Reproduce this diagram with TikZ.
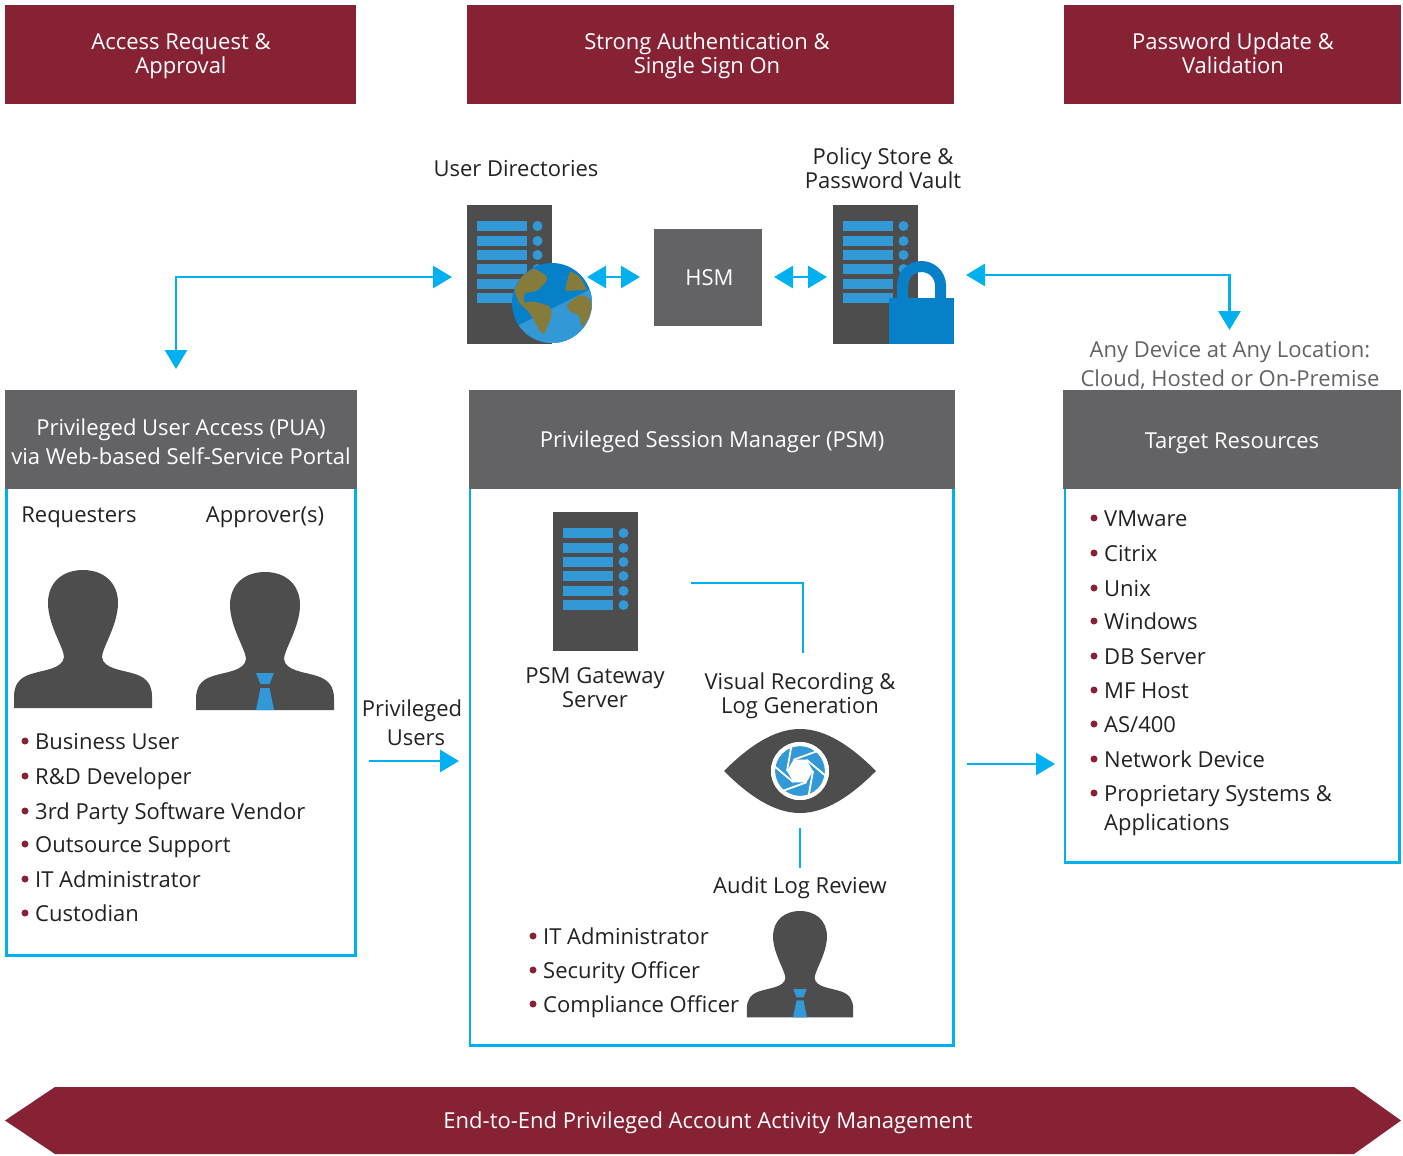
\documentclass[tikz,border=0pt]{standalone}
\usepackage{fontspec}
\setmainfont{Open Sans}
\usetikzlibrary{arrows.meta}
\definecolor{maroon}{HTML}{862234}
\definecolor{hdr}{HTML}{636366}
\definecolor{dark}{HTML}{4D4D4D}
\definecolor{bluefill}{HTML}{3399D6}
\definecolor{cyanline}{HTML}{00B0F0}
\definecolor{globeblue}{HTML}{0680C9}
\definecolor{land}{HTML}{857C3B}
\definecolor{txtc}{HTML}{222222}
\newcommand{\fs}[1]{\fontsize{22}{#1}\selectfont}
\tikzset{
 x=1pt,y=-1pt,
 bandbox/.style={fill=maroon,draw=none,inner sep=0},
 hdrbox/.style={fill=hdr,draw=none,inner sep=0},
 wlab/.style={inner sep=0,text=white,font=\fs{24},align=center},
 panel/.style={draw=cyanline,line width=2.8pt,fill=white},
 lab/.style={inner sep=0,text=txtc,font=\fs{24},align=center},
 wide/.style={font=\fs{29}},
 item/.style={inner sep=0,anchor=base west,text=txtc,font=\fs{24}},
 dotb/.style={circle,fill=maroon,inner sep=0,minimum size=7pt},
 conn/.style={draw=cyanline,line width=2.8pt},
 dbl/.style={conn,{Triangle[length=19pt,width=22pt]}-{Triangle[length=19pt,width=22pt]}},
 sgl/.style={conn,-{Triangle[length=19pt,width=22pt]}},
 pics/server/.style={code={
   \fill[dark] (0,0) rectangle (85,139);
   \foreach \yy in {16,31,45,59,74,88}{
     \fill[bluefill] (9.5,\yy) rectangle (59.5,\yy+10);
     \fill[bluefill] (70.5,\yy+5) circle[radius=5];}
 }},
 pics/person/.style={code={
   \fill[dark] (-69,138) -- (-69,127) .. controls (-69,116) and (-65,108) .. (-52,104)
     .. controls (-40,100) and (-20,99) .. (-19,87)
     .. controls (-19,78) and (-35,55) .. (-35,33)
     .. controls (-35,12) and (-20,0) .. (0,0)
     .. controls (20,0) and (35,12) .. (35,33)
     .. controls (35,55) and (19,78) .. (19,87)
     .. controls (20,99) and (40,100) .. (52,104)
     .. controls (65,108) and (69,116) .. (69,127) -- (69,138) -- cycle;
 }},
 pics/tie/.style={code={
   \fill[bluefill] (-9,101) -- (9,101) -- (4.5,112) -- (-4.5,112) -- cycle;
   \fill[bluefill] (-4.5,116) -- (4.5,116) -- (9,138) -- (-9,138) -- cycle;
 }},
}
\newcommand{\bitem}[4]{% name,x,y,text
  \node[dotb] (#1d) at (#2,#3-8) {};
  \node[item] (#1) at (#2+10,#3) {#4};
}
\begin{document}
\begin{tikzpicture}
\useasboundingbox (0,0) rectangle (1403,1156);
\fill[white] (0,0) rectangle (1403,1156);
% top bands
\node[bandbox,minimum width=351pt,minimum height=99pt] (b1) at (180.5,54.5) {};
\node[bandbox,minimum width=487pt,minimum height=99pt] (b2) at (710.5,54.5) {};
\node[bandbox,minimum width=337pt,minimum height=99pt] (b3) at (1232.5,54.5) {};
\node[wlab] (b1t) at (181,56) {Access Request \&\\Approval};
\node[wlab] (b2t) at (707,56) {Strong Authentication \&\\Single Sign On};
\node[wlab] (b3t) at (1233,53) {Password Update \&\\Validation};
% labels
\node[lab] (ud) at (516,169) {User Directories};
\node[lab] (ps) at (883,168) {Policy Store \&\\Password Vault};
% servers
\pic at (467,205) {server};
\pic at (833,205) {server};
% globe
\begin{scope}[shift={(552,303)}]
  \clip (0,0) circle[radius=40];
  \fill[globeblue] (-41,-41) rectangle (41,41);
  \fill[bluefill] (-41,26) -- (41,-15) -- (41,41) -- (-41,41) -- cycle;
  \fill[land,rounded corners=2pt] (-18,-35) -- (-5,-27) -- (-5,-22) -- (-15,-12) -- (-28,-10) -- (-28,0) -- (-20,-2) -- (-2,3) -- (0,12) -- (-8,32) -- (-13,27) -- (-22,10) -- (-33,0) -- (-38,-13) -- (-30,-27) -- cycle;
  \fill[land,rounded corners=2pt] (18,-32) -- (28,-26) -- (35,-13) -- (27,-13) -- (13,-12) -- (15,-22) -- cycle;
  \fill[land,rounded corners=2pt] (27,-8) -- (35,-7) -- (40,0) -- (38,13) -- (30,25) -- (27,12) -- (18,9) -- (14,2) -- cycle;
\end{scope}
% lock
\draw[globeblue,line width=11pt] (902.5,300) -- (902.5,285.5) arc[start angle=180,end angle=360,radius=19] -- (940.5,300);
\fill[globeblue] (889,298) rectangle (954,344);
% HSM
\node[hdrbox,minimum width=108pt,minimum height=97pt] (hsm) at (708,277.5) {};
\node[wlab] (hsmt) at (709.5,278) {HSM};
% panels
\draw[panel] (6.5,488) rectangle (355.5,955.5);
\draw[panel] (470,488) rectangle (953.5,1045.5);
\draw[panel] (1065,488) rectangle (1399.5,862.5);
\node[hdrbox,minimum width=352pt,minimum height=99pt] (h1) at (181,439.5) {};
\node[hdrbox,minimum width=486pt,minimum height=99pt] (h2) at (711.5,439.5) {};
\node[hdrbox,minimum width=338pt,minimum height=99pt] (h3) at (1232,439.5) {};
\node[wlab,wide] (h1t) at (181,441.5) {Privileged User Access (PUA)\\via Web-based Self-Service Portal};
\node[wlab] (h2t) at (712,442) {Privileged Session Manager (PSM)};
\node[wlab] (h3t) at (1232,443) {Target Resources};
\node[lab,wide,text=hdr] (any) at (1230,365.5) {Any Device at Any Location:\\Cloud, Hosted or On-Premise};
% left panel
\node[lab] (rq) at (79,517) {Requesters};
\node[lab] (ap) at (265,517) {Approver(s)};
\pic at (83,570) {person};
\pic at (265,572) {person};
\pic at (265,572) {tie};
\bitem{a1}{25}{749}{Business User}
\bitem{a2}{25}{784}{R\&D Developer}
\bitem{a3}{25}{819}{3rd Party Software Vendor}
\bitem{a4}{25}{852}{Outsource Support}
\bitem{a5}{25}{887}{IT Administrator}
\bitem{a6}{25}{921}{Custodian}
\node[lab,wide] (pu) at (412,722.5) {Privileged\\\hspace*{8pt}Users};
% center panel
\pic at (553,512) {server};
\node[lab] (gw) at (595,688) {PSM Gateway\\Server};
\node[lab] (vr) at (800,696) {Visual Recording \&\\Log Generation};
% eye
\fill[dark] (724,771) .. controls (750,745) and (775,729) .. (800,729) .. controls (825,729) and (850,745) .. (876,771)
  .. controls (850,797) and (825,813) .. (800,813) .. controls (775,813) and (750,797) .. (724,771) -- cycle;
\begin{scope}[shift={(800,771)}]
  \fill[white] (0,0) circle[radius=29];
  \fill[bluefill] (0,0) circle[radius=25];
  \foreach \a in {0,60,...,300}{
    \draw[white,line width=1.8pt] (\a:13) -- ++(\a+100:27);
  }
  \fill[white] (0:13) -- (60:13) -- (120:13) -- (180:13) -- (240:13) -- (300:13) -- cycle;
  \draw[white,line width=4pt] (0,0) circle[radius=27];
\end{scope}
\node[lab] (al) at (800,888) {Audit Log Review};
\bitem{c1}{533}{944}{IT Administrator}
\bitem{c2}{533}{978}{Security Officer}
\bitem{c3}{533}{1012}{Compliance Officer}
\pic[scale=0.77] at (800,911) {person};
\pic[scale=0.77] at (800,911) {tie};
% right panel
\bitem{t1}{1094}{526}{VMware}
\bitem{t2}{1094}{561}{Citrix}
\bitem{t3}{1094}{596}{Unix}
\bitem{t4}{1094}{629}{Windows}
\bitem{t5}{1094}{664}{DB Server}
\bitem{t6}{1094}{698}{MF Host}
\bitem{t7}{1094}{732}{AS/400}
\bitem{t8}{1094}{767}{Network Device}
\bitem{t9}{1094}{801}{Proprietary Systems \&}
\node[item] (t9b) at (1104,830) {Applications};
% bottom arrow
\fill[maroon] (5,1120.5) -- (55,1087) -- (1354,1087) -- (1401,1120.5) -- (1354,1154) -- (55,1154) -- cycle;
\node[wlab] (bt) at (708,1123) {End-to-End Privileged Account Activity Management};
% connectors
\coordinate (c1a) at (452,277);
\coordinate (c1b) at (176,369);
\coordinate (c2a) at (587,277);
\coordinate (c2b) at (640,277);
\coordinate (c3a) at (774,277);
\coordinate (c3b) at (827,277);
\coordinate (c4a) at (966,275);
\coordinate (c4b) at (1229.5,330);
\coordinate (c5a) at (369,761);
\coordinate (c5b) at (459,761);
\coordinate (c6a) at (691,583);
\coordinate (c6b) at (803,653);
\coordinate (c7a) at (800,828);
\coordinate (c7b) at (800,868);
\coordinate (c8a) at (967,764);
\coordinate (c8b) at (1055,764);
\draw[dbl] (c1a) -| (c1b);
\draw[dbl] (c2a) -- (c2b);
\draw[dbl] (c3a) -- (c3b);
\draw[dbl] (c4a) -| (c4b);
\draw[sgl] (c5a) -- (c5b);
\draw[conn] (c6a) -| (c6b);
\draw[conn] (c7a) -- (c7b);
\draw[sgl] (c8a) -- (c8b);
\end{tikzpicture}
\end{document}
